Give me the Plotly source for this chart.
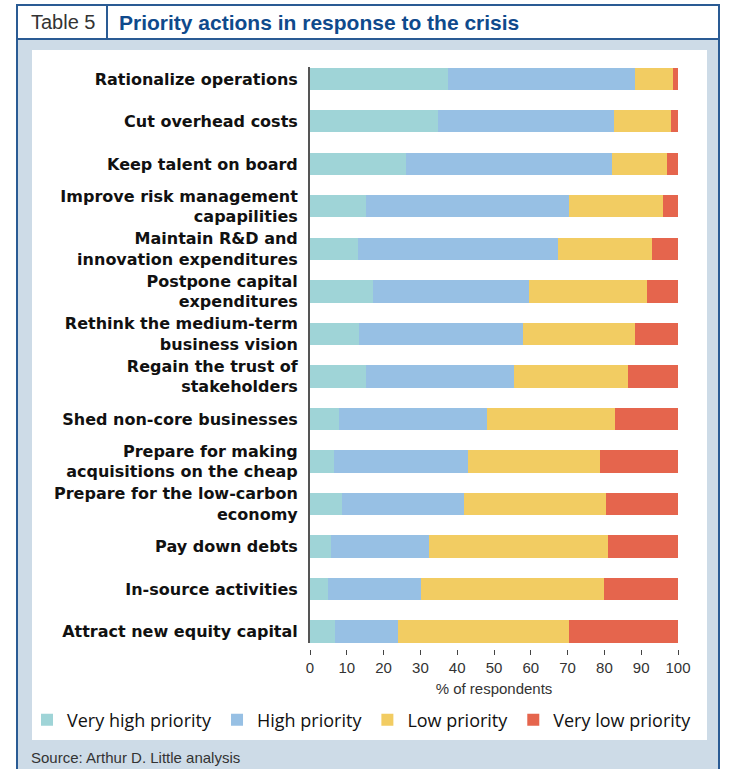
import plotly.graph_objects as go

# ---- data ----
categories = [
    "Rationalize operations",
    "Cut overhead costs",
    "Keep talent on board",
    "Improve risk management<br>capapilities",
    "Maintain R&D and<br>innovation expenditures",
    "Postpone capital<br>expenditures",
    "Rethink the medium-term<br>business vision",
    "Regain the trust of<br>stakeholders",
    "Shed non-core businesses",
    "Prepare for making<br>acquisitions on the cheap",
    "Prepare for the low-carbon<br>economy",
    "Pay down debts",
    "In-source activities",
    "Attract new equity capital",
]
very_high = [37.5, 34.8, 26.1, 15.2, 13.0, 17.1, 13.3, 15.2, 7.9, 6.5, 8.7, 5.7, 4.9, 6.8]
high      = [50.8, 47.8, 56.0, 55.2, 54.4, 42.4, 44.6, 40.2, 40.2, 36.4, 33.1, 26.6, 25.3, 17.1]
low       = [10.3, 15.5, 14.9, 25.5, 25.5, 32.1, 30.4, 31.0, 34.8, 35.9, 38.6, 48.7, 49.7, 46.5]
very_low  = [1.4, 1.9, 3.0, 4.1, 7.1, 8.4, 11.7, 13.6, 17.1, 21.2, 19.6, 19.0, 20.1, 29.6]
series_names = ["Very high priority", "High priority", "Low priority", "Very low priority"]
x_ticks = [0, 10, 20, 30, 40, 50, 60, 70, 80, 90, 100]

colors = ["#9fd4d7", "#97c0e4", "#f2cc62", "#e5654d"]

# ---- layout geometry ----
W, H = 731, 769
ML, MR, MT, MB = 310, 53, 67, 120
PW = W - ML - MR
PH = H - MT - MB

def px(x):
    return (x - ML) / PW

def py(y):
    return (H - MB - y) / PH

NARROW = "Liberation Sans Narrow, Arial Narrow, Liberation Sans, Arial, sans-serif"
SANS = "Liberation Sans, Arial, sans-serif"
FRAME = "#2a5b94"
LIGHT = "#cddbe7"

fig = go.Figure()
for name, vals, c in zip(series_names, [very_high, high, low, very_low], colors):
    fig.add_trace(go.Bar(
        y=categories, x=vals, name=name, orientation="h",
        marker=dict(color=c, line=dict(width=0)),
    ))

shapes = [
    dict(type="rect", xref="paper", yref="paper", x0=px(17), x1=px(719), y0=py(780), y1=py(39),
         fillcolor=LIGHT, line=dict(width=0), layer="below"),
    dict(type="rect", xref="paper", yref="paper", x0=px(17), x1=px(719), y0=py(39), y1=py(5),
         fillcolor="white", line=dict(width=0), layer="below"),
    dict(type="rect", xref="paper", yref="paper", x0=px(32), x1=px(707), y0=py(740), y1=py(50),
         fillcolor="white", line=dict(width=0), layer="below"),
    dict(type="rect", xref="paper", yref="paper", x0=px(17), x1=px(719), y0=py(790), y1=py(5),
         fillcolor="rgba(0,0,0,0)", line=dict(color=FRAME, width=2), layer="below"),
    dict(type="line", xref="paper", yref="paper", x0=px(17), x1=px(719), y0=py(39), y1=py(39),
         line=dict(color=FRAME, width=2), layer="below"),
    dict(type="line", xref="paper", yref="paper", x0=px(107), x1=px(107), y0=py(39), y1=py(5),
         line=dict(color=FRAME, width=2), layer="below"),
]

annotations = [
    dict(text="Table 5", xref="paper", yref="paper", x=px(29), y=py(22), xanchor="left", yanchor="middle",
         showarrow=False, font=dict(family=SANS, size=20, color="#333333")),
    dict(text="<b>Priority actions in response to the crisis</b>", xref="paper", yref="paper",
         x=px(117), y=py(22), xanchor="left", yanchor="middle", showarrow=False,
         font=dict(family=NARROW, size=21, color="#0f4a8c")),
    dict(text="Source: Arthur D. Little analysis", xref="paper", yref="paper", x=px(29), y=py(757),
         xanchor="left", yanchor="middle", showarrow=False,
         font=dict(family=NARROW, size=15, color="#333333")),
]

fig.update_layout(
    width=W, height=H,
    margin=dict(l=ML, r=MR, t=MT, b=MB, pad=0, autoexpand=False),
    barmode="stack",
    bargap=0.48,
    paper_bgcolor="white",
    plot_bgcolor="white",
    shapes=shapes,
    annotations=annotations,
    showlegend=True,
    legend=dict(
        orientation="h", xref="paper", yref="paper",
        x=px(27), y=py(720), xanchor="left", yanchor="middle",
        font=dict(family="Open Sans, Noto Sans, sans-serif", size=18, color="#111111"),
        bgcolor="rgba(0,0,0,0)", traceorder="normal", itemclick=False,
    ),
    xaxis=dict(
        range=[0, 100], tickvals=x_ticks, ticktext=[str(v) for v in x_ticks],
        showgrid=False, zeroline=False, showline=False,
        ticks="outside", ticklen=5, tickcolor="#444444", tickwidth=1,
        tickfont=dict(family=NARROW, size=15, color="#333333"),
        title=dict(text="% of respondents", standoff=8,
                   font=dict(family=NARROW, size=15, color="#333333")),
        anchor="free", position=0,
    ),
    yaxis=dict(
        domain=[(H - MB - 643) / PH, 1],
        range=[13.27, -0.28],
        showgrid=False, zeroline=False,
        showline=True, linecolor="#555555", linewidth=2,
        ticks="", ticklabelstandoff=7,
        tickfont=dict(family="DejaVu Sans, Liberation Sans, sans-serif", size=16,
                      color="#111111", weight="bold"),
    ),
)

fig.write_html("out.html")
